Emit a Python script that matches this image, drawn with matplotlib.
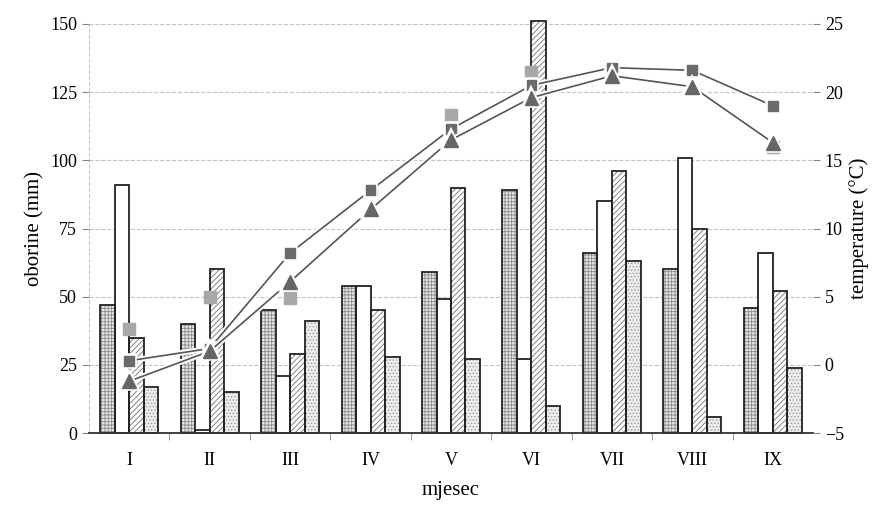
import matplotlib.pyplot as plt
import matplotlib.patheffects as pe
import numpy as np

plt.rcParams['font.family'] = ['Liberation Serif', 'DejaVu Serif']
plt.rcParams['hatch.linewidth'] = 0.6

# --- data ---
months = ["I", "II", "III", "IV", "V", "VI", "VII", "VIII", "IX"]

# precipitation (mm), four bars per month
rain_a = [47, 40, 45, 54, 59, 89, 66, 60, 46]      # fine grid
rain_b = [91, 1, 21, 54, 49, 27, 85, 101, 66]      # white
rain_c = [35, 60, 29, 45, 90, 151, 96, 75, 52]     # diagonal hatch
rain_d = [17, 15, 41, 28, 27, 10, 63, 6, 24]       # light dots

# temperature (deg C)
temp_sq = [0.3, 1.2, 8.2, 12.8, 17.3, 20.5, 21.8, 21.6, 19.0]
temp_tri = [-1.2, 1.0, 6.1, 11.4, 16.5, 19.6, 21.2, 20.4, 16.3]
temp_pts = [2.6, 5.0, 4.9, 12.8, 18.3, 21.5, 21.7, 21.6, 16.0]

x = np.arange(len(months))
w = 0.18


def hatched_bar(ax, pos, vals, face, hatch, hcol):
    # hatch drawn in grey first, black outline on top
    ax.bar(pos, vals, w, facecolor=face, edgecolor=hcol, hatch=hatch, linewidth=0, zorder=2, clip_on=False)
    ax.bar(pos, vals, w, facecolor='none', edgecolor='#222222', linewidth=1.3, zorder=2.1, clip_on=False)


fig = plt.figure(figsize=(8.86, 5.15), dpi=100)
ax = fig.add_axes([0.1005, 0.1592, 0.8171, 0.7942])

hatched_bar(ax, x - 0.27, rain_a, '#e6e6e6', '+++++', '#8a8a8a')
hatched_bar(ax, x - 0.09, rain_b, 'white', None, 'white')
hatched_bar(ax, x + 0.09, rain_c, 'white', '//////', '#707070')
hatched_bar(ax, x + 0.27, rain_d, '#eeeeee', '.....', '#9a9a9a')

ax.set_xlim(-0.5, len(months) - 0.5)
ax.set_ylim(0, 150)
ax.set_yticks(np.arange(0, 151, 25))
ax.set_xticks(x)
ax.set_xticklabels(months)
ax.set_xticks(np.arange(0.5, len(months) - 0.5, 1), minor=True)
ax.tick_params(axis='x', which='major', length=0, pad=14, labelsize=13)
ax.tick_params(axis='x', which='minor', length=5, direction='out', color='#888888')
ax.tick_params(axis='y', labelsize=13, length=5, color='#888888')
ax.yaxis.grid(True, color='#c4c4c4', linestyle='--', linewidth=0.8, zorder=0)
ax.set_axisbelow(True)

for side in ['left', 'right', 'top']:
    ax.spines[side].set_visible(False)
ax.spines['bottom'].set_color('#333333')
ax.spines['bottom'].set_linewidth(1.3)
ax.axvline(-0.5, color='#c4c4c4', linestyle='--', linewidth=0.8, zorder=0)

ax.set_ylabel("oborine (mm)", fontsize=15)
ax.set_xlabel("mjesec", fontsize=15, labelpad=8)

ax2 = ax.twinx()
ax2.set_ylim(-5, 25)
ax2.set_yticks(np.arange(-5, 26, 5))
ax2.tick_params(axis='y', labelsize=13, length=5, color='#888888')
for side in ['left', 'right', 'top', 'bottom']:
    ax2.spines[side].set_visible(False)
ax2.set_ylabel("temperature (°C)", fontsize=15)

halo = [pe.Stroke(linewidth=4, foreground='white'), pe.Normal()]
ax2.plot(x, temp_sq, color='#555555', linewidth=1.2, marker='s', markersize=7,
         markerfacecolor='#6a6a6a', markeredgecolor='#6a6a6a', path_effects=halo, zorder=4)
ax2.plot(x, temp_tri, color='#555555', linewidth=1.2, marker='^', markersize=10,
         markerfacecolor='#666666', markeredgecolor='#666666', path_effects=halo, zorder=4)
ax2.plot(x, temp_pts, linestyle='none', marker='s', markersize=8,
         markerfacecolor='#a8a8a8', markeredgecolor='#a8a8a8', zorder=3)

fig.savefig("out.png", dpi=100)
